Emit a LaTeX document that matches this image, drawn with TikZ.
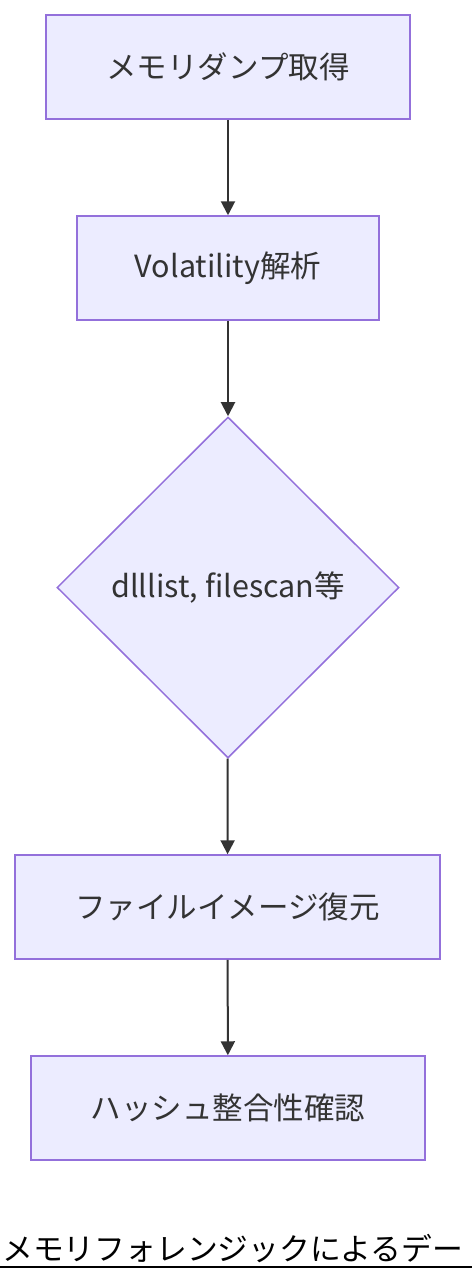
\documentclass[tikz,border=0pt]{standalone}
\usepackage{fontspec}
\setmainfont{Noto Sans CJK JP}
\usetikzlibrary{shapes.geometric,arrows.meta}
\definecolor{nodefill}{HTML}{ECECFF}
\definecolor{nodeline}{HTML}{9370DB}
\definecolor{txt}{HTML}{333333}
\tikzset{
  boxnode/.style={draw=nodeline, fill=nodefill, line width=1.5pt, text=txt, font=\fontsize{30.5}{34}\selectfont, inner sep=0pt, minimum height=104pt},
  decnode/.style={draw=nodeline, fill=nodefill, line width=1.5pt, diamond, inner sep=0pt, minimum width=342pt, minimum height=341pt},
  flow/.style={draw=txt, line width=2pt, -{Triangle[length=14pt,width=14pt]}}
}
\begin{document}
\begin{tikzpicture}[x=1pt,y=-1pt]
\useasboundingbox (0,0) rectangle (472,1282);
\node[boxnode, minimum width=364pt] (n1) at (228,67) {メモリダンプ取得};
\node[boxnode, minimum width=302pt] (n2) at (228,268) {Volatility解析};
\node[decnode] (n3) at (228,587.5) {};
\node[text=txt, font=\fontsize{30.5}{34}\selectfont] (n3t) at (228,587.5) {dlllist, filescan等};
\node[boxnode, minimum width=425pt] (n4) at (227.5,907) {ファイルイメージ復元};
\node[boxnode, minimum width=394pt] (n5) at (228,1108) {ハッシュ整合性確認};
\draw[flow] (n1) -- (n2);
\draw[flow] (n2) -- (n3);
\draw[flow] (n3) -- (n4);
\draw[flow] (n4) -- (n5);
\node[anchor=base west, inner sep=0pt, font=\fontsize{30.8}{36}\selectfont] (cap) at (2,1260) {メモリフォレンジックによるデー};
\draw[line width=2pt] (0,1267) coordinate (ul1) -- (472,1267) coordinate (ul2);
\end{tikzpicture}
\end{document}
